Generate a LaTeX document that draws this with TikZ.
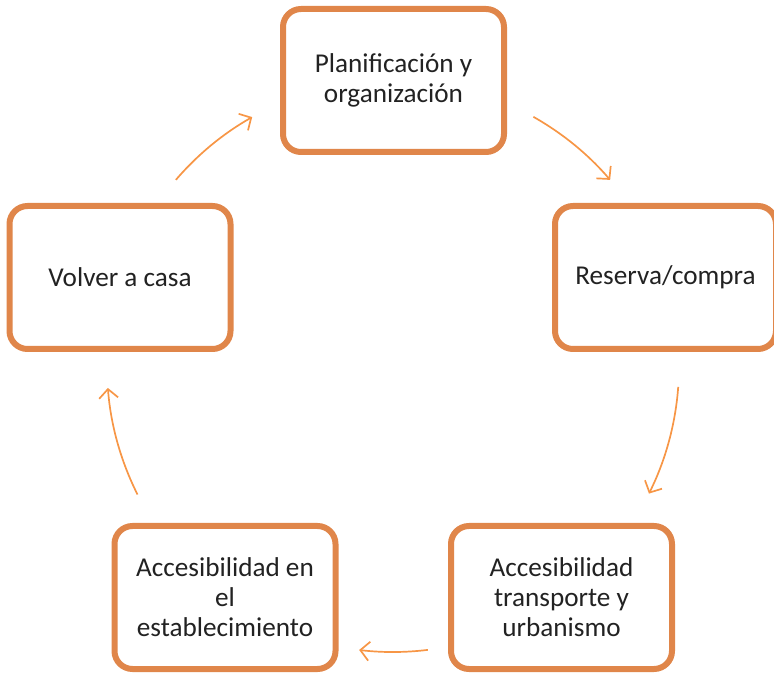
\documentclass[tikz,border=0pt]{standalone}
\usepackage{fontspec}
\setmainfont{Carlito}
\usetikzlibrary{arrows.meta,calc}
\definecolor{boxline}{HTML}{E0864A}
\definecolor{arrowline}{HTML}{F79646}
\definecolor{textcol}{HTML}{222222}
\begin{document}
\begin{tikzpicture}[x=1pt,y=1pt,
  stagebox/.style={draw=boxline, line width=6pt, rounded corners=18pt,
    fill=white, minimum width=221pt, minimum height=143pt, align=center,
    text=textcol, font=\fontsize{27.2pt}{30pt}\selectfont, inner sep=0pt},
  cyclearrow/.style={draw=arrowline, line width=1.7pt,
    -{Straight Barb[length=9pt,width=19pt,line width=1.7pt]}}]
  \useasboundingbox (0,0) rectangle (774,675);
  % stages of the cycle
  \node[stagebox] (plan) at (393.5,594.5) {Planificación y\\organización};
  \node[stagebox] (reserva) at (665.5,397.5) {Reserva/compra};
  \node[stagebox] (transporte) at (561.5,77.5) {Accesibilidad\\transporte y\\urbanismo};
  \node[stagebox] (estab) at (225,77.5) {Accesibilidad en\\el\\establecimiento};
  \node[stagebox] (casa) at (120,397.5) {Volver a casa};
  % arrows lie on one circle round the middle of the cycle
  \coordinate (mid) at (393,309);
  \coordinate (a1) at ($(mid)+(60.6:286)$);
  \coordinate (a2) at ($(mid)+(-4.2:286)$);
  \coordinate (a3) at ($(mid)+(-83:286)$);
  \coordinate (a4) at ($(mid)+(-153.3:286)$);
  \coordinate (a5) at ($(mid)+(139.4:286)$);
  \draw[cyclearrow] (a1) arc[start angle=60.6, end angle=40.6, radius=286pt];
  \draw[cyclearrow] (a2) arc[start angle=-4.2, end angle=-26.5, radius=286pt];
  \draw[cyclearrow] (a3) arc[start angle=-83, end angle=-96.8, radius=286pt];
  \draw[cyclearrow] (a4) arc[start angle=-153.3, end angle=-175.6, radius=286pt];
  \draw[cyclearrow] (a5) arc[start angle=139.4, end angle=119.5, radius=286pt];
\end{tikzpicture}
\end{document}
